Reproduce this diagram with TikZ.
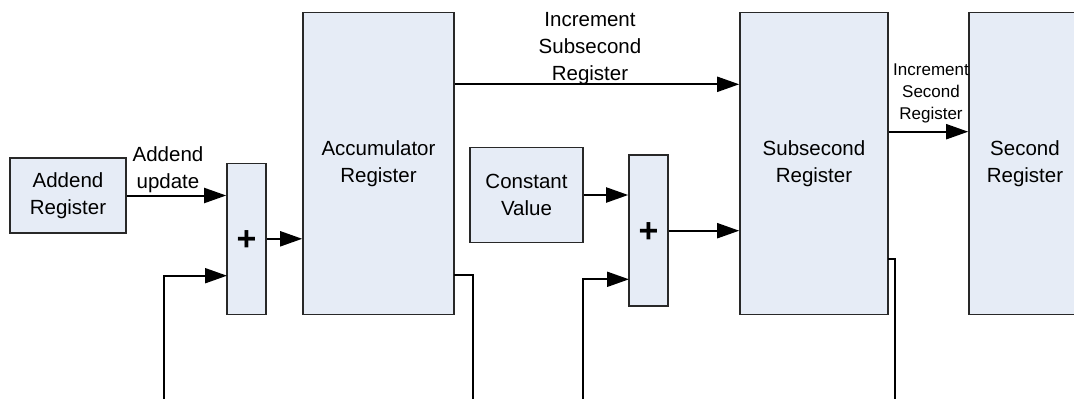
\documentclass[tikz,border=0pt]{standalone}
\usepackage{fontspec}
\setmainfont{Liberation Sans}
\usetikzlibrary{arrows.meta,calc}
\definecolor{boxfill}{RGB}{230,236,246}
\definecolor{boxline}{RGB}{40,40,40}
\tikzset{
  x=1pt, y=-1pt,
  blk/.style={draw=boxline, line width=1.6pt, fill=boxfill, inner sep=0pt, align=center,
    font=\fontsize{20.5}{27}\selectfont},
  lbl/.style={inner sep=0pt, align=center, font=\fontsize{20.5}{27}\selectfont},
  slbl/.style={inner sep=0pt, align=center, font=\fontsize{17}{21.7}\selectfont},
  plus/.style={font=\bfseries\fontsize{34}{34}\selectfont, inner sep=0pt},
  arr/.style={line width=2pt, -{Triangle[length=22pt,width=15pt]}},
  wire/.style={line width=2pt},
}
\begin{document}
\begin{tikzpicture}
\useasboundingbox (0,0) rectangle (1074,399);
\clip (0,0) rectangle (1074,399);
% boxes
\node[blk, minimum width=116pt, minimum height=75pt] (addend) at (68,195.5) {Addend\\Register};
\node[blk, minimum width=39pt, minimum height=151pt] (plus1) at (246.5,238.8) {};
\node[plus] (p1) at (246.5,241) {+};
\node[blk, minimum width=151pt, minimum height=302pt] (acc) at (378.5,163.5) {Accumulator\\Register};
\node[blk, minimum width=113pt, minimum height=95pt] (const) at (526.5,195) {Constant\\Value};
\node[blk, minimum width=39pt, minimum height=151pt] (plus2) at (648.5,230.7) {};
\node[plus] (p2) at (648.5,233) {+};
\node[blk, minimum width=148pt, minimum height=302pt] (sub) at (814,163.5) {Subsecond\\Register};
\node[blk, minimum width=116pt, minimum height=302pt] (sec) at (1027,163.5) {};
\node[lbl] (sect) at (1025,164) {Second\\Register};
% labels
\node[lbl] (la) at (168,170) {Addend\\update};
\node[lbl] (lb) at (590,49) {Increment\\Subsecond\\Register};
\node[slbl] (lc) at (931,93.3) {Increment\\Second\\Register};
% free ends
\coordinate (f1) at (164.3,399);
\coordinate (i1) at (227,275.7);
\coordinate (f2) at (473.3,399);
\coordinate (o2) at (454,275);
\coordinate (f3) at (583.3,399);
\coordinate (i3) at (629,279.3);
\coordinate (f4) at (895,399);
\coordinate (o4) at (888,259);
% connectors
\draw[arr] (addend.east) -- (plus1.west |- addend.east);
\draw[arr] (plus1.east) -- (acc.west |- plus1.east);
\draw[arr] (f1) |- (i1);
\draw[arr] (acc.east |- 0,84.3) -- (sub.west |- 0,84.3);
\draw[arr] (const.east) -- (plus2.west |- const.east);
\draw[arr] (plus2.east) -- (sub.west |- plus2.east);
\draw[arr] (f3) |- (i3);
\draw[wire] (o2) -| (f2);
\draw[wire] (o4) -| (f4);
\draw[arr] (sub.east |- 0,131.7) -- (sec.west |- 0,131.7);
\end{tikzpicture}
\end{document}
